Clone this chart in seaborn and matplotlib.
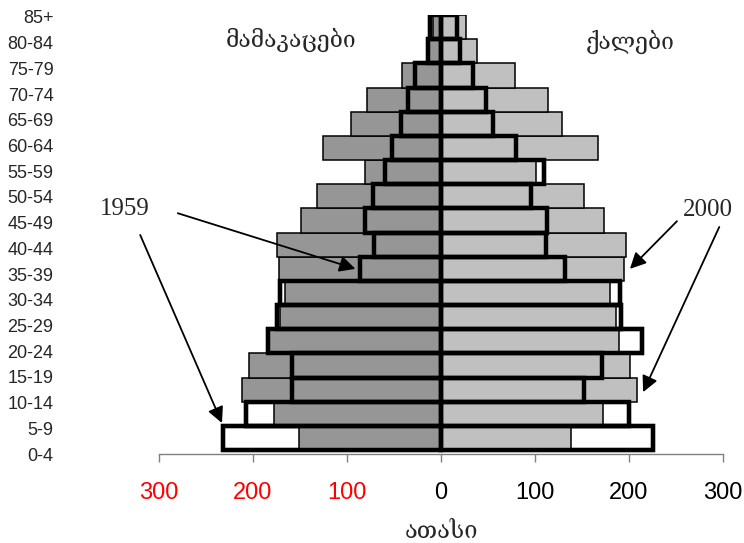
import matplotlib
matplotlib.use("Agg")
import matplotlib.pyplot as plt
import numpy as np
import pandas as pd
import seaborn as sns

# age groups, bottom to top
ages = ['0-4', '5-9', '10-14', '15-19', '20-24', '25-29', '30-34', '35-39', '40-44',
        '45-49', '50-54', '55-59', '60-64', '65-69', '70-74', '75-79', '80-84', '85+']

# thousands of people
male_1959 = [232, 207, 159, 159, 184, 174, 171, 86, 71, 81, 72, 60, 52, 43, 35, 28, 14, 12]
male_2000 = [151, 178, 212, 204, 183, 171, 166, 172, 174, 149, 132, 81, 126, 96, 79, 41, 14, 9]
female_1959 = [225, 200, 152, 171, 214, 191, 190, 132, 112, 113, 96, 110, 80, 55, 48, 34, 20, 17]
female_2000 = [138, 172, 208, 201, 189, 186, 180, 195, 197, 173, 152, 101, 167, 129, 114, 79, 38, 27]

xticks = [-300, -200, -100, 0, 100, 200, 300]
xtick_labels = ['300', '200', '100', '0', '100', '200', '300']

male_label = 'მამაკაცები'
female_label = 'ქალები'
x_label = 'ათასი'

sns.set_style('white')
plt.rcParams['font.family'] = ['Liberation Sans', 'DejaVu Sans']
geo_font = ['DejaVu Serif']
serif_font = ['Liberation Serif', 'DejaVu Serif']

df = pd.DataFrame({
    'age': ages,
    'm59': -np.array(male_1959),
    'm00': -np.array(male_2000),
    'f59': np.array(female_1959),
    'f00': np.array(female_2000),
})

fig = plt.figure(figsize=(7.44, 5.43), dpi=100)
ax = fig.add_axes([0.2137, 0.1639, 0.7581, 0.8085])

bar_kw = dict(y='age', order=ages, orient='h', width=1.0, errorbar=None, saturation=1, ax=ax)

# 1959: white fill behind
for col in ['m59', 'f59']:
    sns.barplot(data=df, x=col, color='white', edgecolor='black', linewidth=3, zorder=1, **bar_kw)
# 2000: grey bars
sns.barplot(data=df, x='m00', color='#969696', edgecolor='black', linewidth=1.1, zorder=2, **bar_kw)
sns.barplot(data=df, x='f00', color='#c0c0c0', edgecolor='black', linewidth=1.1, zorder=2, **bar_kw)
# 1959: thick outline on top
for col in ['m59', 'f59']:
    sns.barplot(data=df, x=col, color='black', fill=False, linewidth=3.2, zorder=3, **bar_kw)

ax.set_xlim(-300, 300)
ax.set_ylim(-0.5, 17.5)

# age labels sit a little off the bars, like in the original
ax.set_yticks(np.linspace(-0.66, 17.42, len(ages)), labels=ages)
ax.tick_params(axis='y', left=False, length=0, pad=76, labelsize=13)
ax.set_ylabel('')

ax.set_xticks(xticks, labels=xtick_labels)
ax.tick_params(axis='x', bottom=True, length=6, width=1, color='#808080', direction='out',
               pad=14, labelsize=17)
for lab, v in zip(ax.get_xticklabels(), xticks):
    lab.set_color('red' if v < 0 else 'black')
ax.set_xlabel(x_label, family=geo_font, fontsize=17, labelpad=12)

sns.despine(ax=ax, left=True, top=True, right=True)
ax.spines['bottom'].set_color('#808080')
ax.spines['bottom'].set_linewidth(1)

ax.text(-160, 16.45, male_label, family=geo_font, fontsize=16.5, ha='center', va='center')
ax.text(201, 16.4, female_label, family=geo_font, fontsize=16.5, ha='center', va='center')

ax.text(-336, 9.46, '1959', family=serif_font, fontsize=18, ha='center', va='center')
ax.text(284, 9.42, '2000', family=serif_font, fontsize=18, ha='center', va='center')

arrow = dict(arrowstyle='-|>', mutation_scale=24, lw=1.3, color='black', shrinkA=0, shrinkB=0)
ax.annotate('', xy=(-male_1959[7] - 5, 7), xytext=(-280, 9.3), arrowprops=arrow,
            annotation_clip=False)
ax.annotate('', xy=(-male_1959[0] - 1, 0.62), xytext=(-320, 8.4), arrowprops=arrow,
            annotation_clip=False)
ax.annotate('', xy=(female_2000[7] + 6, 7), xytext=(251, 8.97), arrowprops=arrow,
            annotation_clip=False)
ax.annotate('', xy=(female_2000[2] + 7, 1.9), xytext=(296, 8.73), arrowprops=arrow,
            annotation_clip=False)

fig.savefig('out.png', dpi=100)
